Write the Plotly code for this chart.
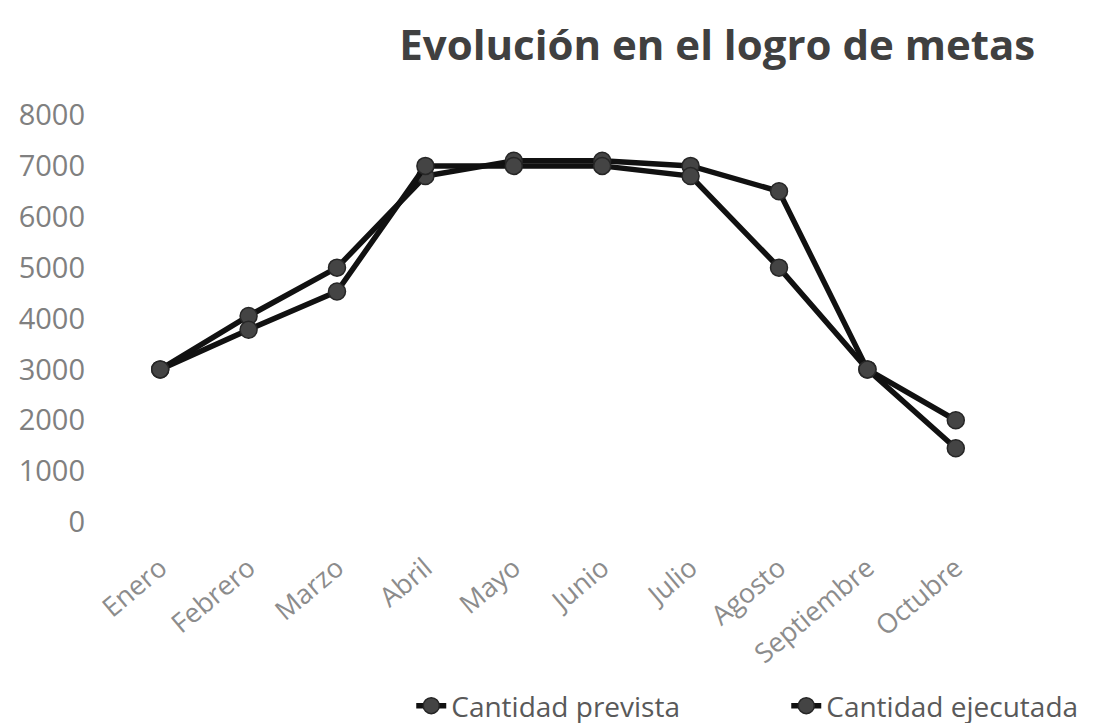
import plotly.graph_objects as go

meses = ["Enero", "Febrero", "Marzo", "Abril", "Mayo", "Junio", "Julio", "Agosto", "Septiembre", "Octubre"]
prevista = [3000, 4050, 5000, 6800, 7100, 7100, 7000, 6500, 3000, 2000]
ejecutada = [3000, 3780, 4530, 7000, 7000, 7000, 6800, 5000, 3000, 1450]
y_ticks = [0, 1000, 2000, 3000, 4000, 5000, 6000, 7000, 8000]

FONT = "Open Sans, sans-serif"

fig = go.Figure()
for name, vals in [("Cantidad prevista", prevista), ("Cantidad ejecutada", ejecutada)]:
    fig.add_trace(go.Scatter(
        x=meses, y=vals, name=name, mode="lines+markers",
        line=dict(color="#111111", width=5.5),
        marker=dict(size=17, color="#444444", line=dict(color="#262626", width=1.5)),
    ))

fig.update_layout(
    width=1103, height=723,
    paper_bgcolor="white", plot_bgcolor="white",
    margin=dict(l=108, r=111, t=107, b=209, autoexpand=False),
    title=dict(text="<b>Evolución en el logro de metas</b>", x=0.643, xanchor="center",
               y=0.949, yanchor="middle",
               font=dict(family=FONT, size=42, color="#404040")),
    font=dict(family=FONT),
    showlegend=True,
    legend=dict(orientation="h", x=0.334, xanchor="left", y=-0.452, yanchor="middle",
                font=dict(size=28, color="#595959"), entrywidth=330,
                bgcolor="rgba(0,0,0,0)"),
    xaxis=dict(range=[-0.5, 9.5], showgrid=False, showline=False, zeroline=False, tickangle=-40,
               tickfont=dict(size=27, color="#8c8c8c"), ticks="", automargin=False,
               ticklabelstandoff=24),
    yaxis=dict(range=[0, 8000], tickvals=y_ticks, showgrid=False, showline=False,
               zeroline=False, tickfont=dict(size=29, color="#808080"), ticks="",
               automargin=False, ticklabelstandoff=30),
)

fig.write_html("out.html")
